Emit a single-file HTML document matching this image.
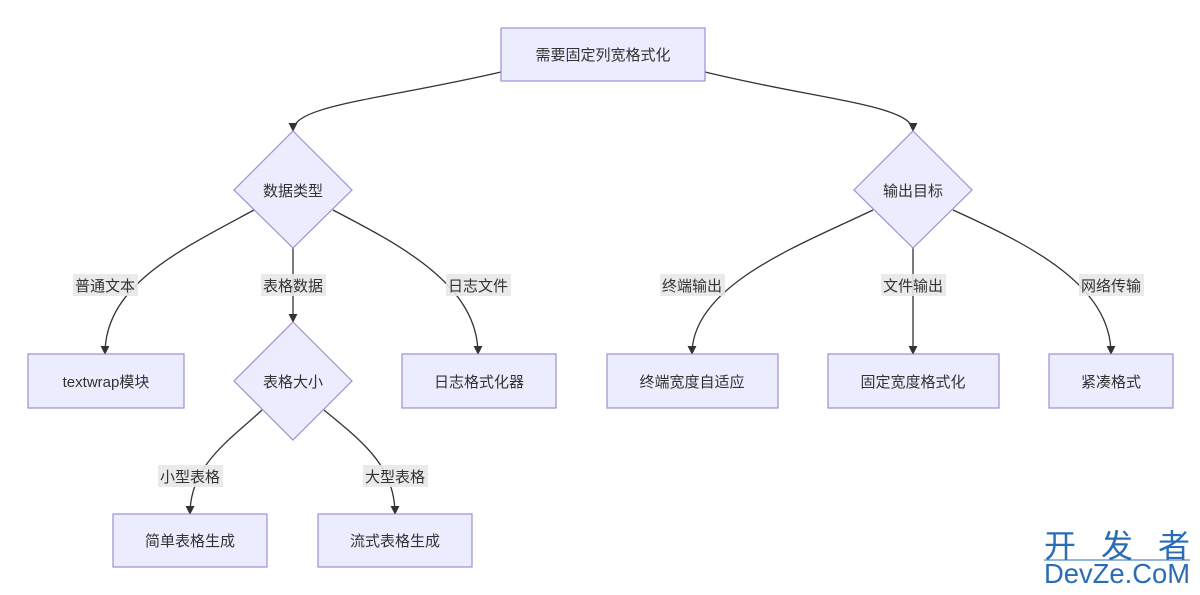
<!DOCTYPE html>
<html><head><meta charset="utf-8"><style>
html,body{margin:0;padding:0;background:#fff;}
svg{display:block;}
text{font-family:"Liberation Sans","Noto Sans CJK SC",sans-serif;font-size:15px;fill:#333;}
.n{fill:#ececff;stroke:#a08fd0;stroke-width:1.2;}
.e{fill:none;stroke:#333;stroke-width:1.3;}
.lb{fill:#e8e8e8;opacity:0.9;}
</style></head><body>
<svg width="1200" height="595" viewBox="0 0 1200 595" xmlns="http://www.w3.org/2000/svg">
<defs><marker id="a" viewBox="0 0 10 10" refX="9" refY="5" markerWidth="7" markerHeight="7" orient="auto"><path d="M0,0L10,5L0,10z" fill="#333"/></marker></defs>
<path class="e" marker-end="url(#a)" d="M501,72 C380,100 293,105 293,131"/>
<path class="e" marker-end="url(#a)" d="M705,72 C820,100 913,105 913,131"/>
<path class="e" marker-end="url(#a)" d="M254,210 C180,250 105,285 105,354"/>
<path class="e" marker-end="url(#a)" d="M293,248 L293,322"/>
<path class="e" marker-end="url(#a)" d="M333,210 C400,245 478,285 478,354"/>
<path class="e" marker-end="url(#a)" d="M873,210 C800,245 692,285 692,354"/>
<path class="e" marker-end="url(#a)" d="M913,248 L913,354"/>
<path class="e" marker-end="url(#a)" d="M953,210 C1030,245 1111,285 1111,354"/>
<path class="e" marker-end="url(#a)" d="M262,410 C230,440 190,465 190,514"/>
<path class="e" marker-end="url(#a)" d="M324,410 C360,440 395,465 395,514"/>
<g text-anchor="middle">
<rect class="lb" x="73" y="274" width="65" height="22"/><text x="105" y="291">普通文本</text>
<rect class="lb" x="261" y="274" width="65" height="22"/><text x="293" y="291">表格数据</text>
<rect class="lb" x="446" y="274" width="65" height="22"/><text x="478" y="291">日志文件</text>
<rect class="lb" x="660" y="274" width="65" height="22"/><text x="692" y="291">终端输出</text>
<rect class="lb" x="881" y="274" width="65" height="22"/><text x="913" y="291">文件输出</text>
<rect class="lb" x="1079" y="274" width="65" height="22"/><text x="1111" y="291">网络传输</text>
<rect class="lb" x="158" y="465" width="65" height="22"/><text x="190" y="482">小型表格</text>
<rect class="lb" x="363" y="465" width="65" height="22"/><text x="395" y="482">大型表格</text>
</g>
<rect class="n" x="501" y="28" width="204" height="53"/>
<polygon class="n" points="293,131 352,190 293,248 234,190"/>
<polygon class="n" points="913,131 972,190 913,248 854,190"/>
<rect class="n" x="28" y="354" width="156" height="54"/>
<polygon class="n" points="293,322 352,381 293,440 234,381"/>
<rect class="n" x="402" y="354" width="154" height="54"/>
<rect class="n" x="607" y="354" width="171" height="54"/>
<rect class="n" x="828" y="354" width="171" height="54"/>
<rect class="n" x="1049" y="354" width="124" height="54"/>
<rect class="n" x="113" y="514" width="154" height="53"/>
<rect class="n" x="318" y="514" width="154" height="53"/>
<g text-anchor="middle">
<text x="603" y="60">需要固定列宽格式化</text>
<text x="293" y="196">数据类型</text>
<text x="913" y="196">输出目标</text>
<text x="106" y="387">textwrap模块</text>
<text x="293" y="387">表格大小</text>
<text x="479" y="387">日志格式化器</text>
<text x="692" y="387">终端宽度自适应</text>
<text x="913" y="387">固定宽度格式化</text>
<text x="1111" y="387">紧凑格式</text>
<text x="190" y="546">简单表格生成</text>
<text x="395" y="546">流式表格生成</text>
</g>
<text x="1044" y="557" textLength="146" lengthAdjust="spacing" style="font-size:32px;fill:#2a6db5">开发者</text>
<line x1="1044" y1="560" x2="1190" y2="560" stroke="#2a6db5" stroke-width="1"/>
<text x="1044" y="583" textLength="146" lengthAdjust="spacingAndGlyphs" style="font-size:28px;fill:#2a6db5">DevZe.CoM</text>
</svg>
</body></html>
